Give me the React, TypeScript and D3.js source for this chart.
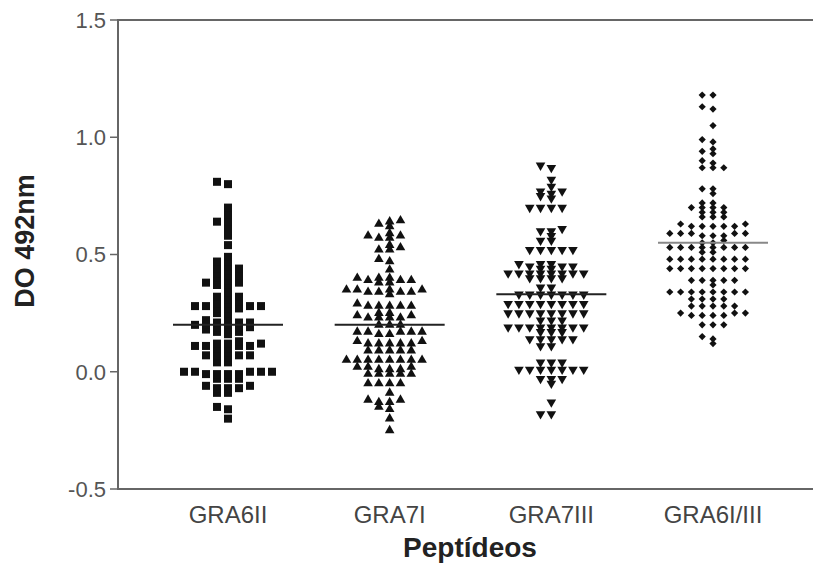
import React from "react";
import * as d3 from "d3";

// Peptídeos (categorias do eixo x)
const peptideos = ["GRA6II", "GRA7I", "GRA7III", "GRA6I/III"];

// DO 492nm por soro
const gra6II = [
  0.81, 0.80, 0.70, 0.67, 0.64, 0.64, 0.61, 0.58, 0.54, 0.49, 0.47, 0.47,
  0.45, 0.44, 0.44, 0.43, 0.42, 0.41, 0.41, 0.40, 0.39, 0.38, 0.38, 0.37, 0.37,
  0.34, 0.32, 0.32, 0.31, 0.30, 0.29, 0.29, 0.28, 0.28, 0.28, 0.28, 0.27, 0.27,
  0.27, 0.25, 0.25, 0.22, 0.22, 0.21, 0.21, 0.21, 0.20, 0.20, 0.20, 0.19, 0.19,
  0.19, 0.18, 0.18, 0.17, 0.17, 0.16, 0.13, 0.12, 0.12, 0.12, 0.11, 0.11, 0.11,
  0.11, 0.10, 0.10, 0.08, 0.07, 0.07, 0.07, 0.07, 0.06, 0.04, 0.04, 0.00, 0.00,
  0.00, 0.00, 0.00, -0.01, -0.01, -0.01, -0.01, -0.03, -0.03, -0.03, -0.06,
  -0.06, -0.07, -0.07, -0.07, -0.09, -0.09, -0.15, -0.16, -0.20,
];

const gra7I = [
  0.645, 0.64, 0.63, 0.62, 0.59, 0.58, 0.58, 0.57, 0.57, 0.54, 0.53, 0.52, 0.52,
  0.48, 0.47, 0.435, 0.40, 0.40, 0.40, 0.39, 0.39, 0.39, 0.38, 0.38, 0.35, 0.35,
  0.35, 0.35, 0.34, 0.34, 0.34, 0.34, 0.33, 0.29, 0.28, 0.28, 0.28, 0.28, 0.28,
  0.25, 0.25, 0.24, 0.24, 0.23, 0.23, 0.23, 0.23, 0.20, 0.20, 0.20, 0.17, 0.17,
  0.17, 0.17, 0.17, 0.16, 0.16, 0.13, 0.13, 0.12, 0.12, 0.12, 0.12, 0.12, 0.09,
  0.09, 0.09, 0.09, 0.09, 0.05, 0.05, 0.05, 0.05, 0.05, 0.05, 0.05, 0.05, 0.02,
  0.02, 0.02, 0.01, 0.01, 0.01, -0.01, -0.01, -0.01, -0.01, -0.01, -0.05, -0.05,
  -0.05, -0.05, -0.09, -0.12, -0.12, -0.13, -0.13, -0.15, -0.16, -0.20, -0.25,
];

const gra7III = [
  0.88, 0.87, 0.82, 0.79, 0.77, 0.77, 0.76, 0.75, 0.74, 0.70, 0.70, 0.70, 0.70,
  0.61, 0.60, 0.60, 0.58, 0.56, 0.56, 0.52, 0.52, 0.52, 0.52, 0.52, 0.46, 0.46,
  0.46, 0.45, 0.45, 0.45, 0.44, 0.44, 0.42, 0.42, 0.42, 0.42, 0.42, 0.42, 0.42,
  0.42, 0.40, 0.40, 0.40, 0.40, 0.36, 0.36, 0.33, 0.33, 0.33, 0.33, 0.33, 0.33,
  0.33, 0.29, 0.29, 0.29, 0.29, 0.29, 0.29, 0.29, 0.29, 0.25, 0.25, 0.25, 0.25,
  0.25, 0.25, 0.25, 0.25, 0.22, 0.22, 0.22, 0.19, 0.19, 0.19, 0.19, 0.19, 0.19,
  0.19, 0.19, 0.17, 0.17, 0.17, 0.14, 0.14, 0.14, 0.14, 0.14, 0.11, 0.11, 0.04,
  0.04, 0.04, 0.01, 0.01, 0.01, 0.01, 0.01, 0.01, 0.01, -0.03, -0.03, -0.03,
  -0.05, -0.13, -0.18, -0.18,
];

const gra6I_III = [
  1.18, 1.18, 1.13, 1.12, 1.05, 0.99, 0.98, 0.95, 0.94, 0.93, 0.90, 0.89, 0.87,
  0.87, 0.87, 0.78, 0.78, 0.76, 0.72, 0.72, 0.70, 0.70, 0.70, 0.70, 0.68, 0.68,
  0.68, 0.66, 0.66, 0.66, 0.63, 0.63, 0.62, 0.62, 0.62, 0.62, 0.62, 0.59, 0.59,
  0.59, 0.59, 0.59, 0.58, 0.58, 0.58, 0.56, 0.55, 0.55, 0.53, 0.53, 0.53, 0.53,
  0.53, 0.53, 0.53, 0.53, 0.51, 0.51, 0.48, 0.48, 0.48, 0.48, 0.48, 0.48, 0.48,
  0.48, 0.44, 0.44, 0.44, 0.44, 0.44, 0.44, 0.44, 0.44, 0.39, 0.39, 0.39, 0.39,
  0.39, 0.37, 0.34, 0.34, 0.34, 0.34, 0.34, 0.34, 0.34, 0.34, 0.31, 0.31, 0.31,
  0.31, 0.28, 0.28, 0.28, 0.28, 0.28, 0.25, 0.25, 0.25, 0.24, 0.24, 0.24, 0.24,
  0.20, 0.20, 0.20, 0.15, 0.14, 0.12,
];

// linha horizontal de cada grupo (mediana)
const medianas = [0.20, 0.20, 0.33, 0.55];

const yTicks = [-0.5, 0.0, 0.5, 1.0, 1.5];

const grupos = [gra6II, gra7I, gra7III, gra6I_III];

const W = 813;
const H = 568;
const axisX = 118;
const top = 20;
const bottom = 489;

const y = d3.scaleLinear().domain([-0.5, 1.5]).range([bottom, top]);
const x = d3.scalePoint<string>().domain(peptideos).range([228, 713]);

// posiciona os pontos em colunas, como no Prism
function swarm(values: number[], step: number, minDy: number) {
  const pts = values
    .map((v) => ({ v, py: y(v), k: 0 }))
    .sort((a, b) => b.py - a.py);
  const placed: { py: number; k: number }[] = [];
  pts.forEach((p) => {
    for (let i = 0; i < 40; i++) {
      const k = i === 0 ? 0 : i % 2 ? -Math.ceil(i / 2) : Math.ceil(i / 2);
      const hit = placed.some((q) => q.k === k && Math.abs(q.py - p.py) < minDy);
      if (!hit) {
        p.k = k;
        placed.push({ py: p.py, k });
        break;
      }
    }
  });
  return pts.map((p) => ({ ...p, dx: p.k * step }));
}

const tri = d3.symbol(d3.symbolTriangle, 40)()!;
const diamond = d3.symbol(d3.symbolSquare, 26)()!;

function Marker({ g, cx, cy }: { g: number; cx: number; cy: number }) {
  if (g === 0) return <rect x={cx - 4} y={cy - 4} width={8} height={8} fill="#111" />;
  if (g === 1) return <path d={tri} transform={`translate(${cx},${cy})`} fill="#111" />;
  if (g === 2) return <path d={tri} transform={`translate(${cx},${cy}) rotate(180)`} fill="#111" />;
  return <path d={diamond} transform={`translate(${cx},${cy}) rotate(45)`} fill="#111" />;
}

export default function App() {
  const font = "Arial, 'Liberation Sans', Helvetica, sans-serif";
  return (
    <svg
      width={W}
      height={H}
      style={{ position: "absolute", left: 0, top: 0, background: "#fff" }}
      fontFamily={font}
    >
      {/* moldura / eixos */}
      <line x1={axisX} x2={W} y1={top} y2={top} stroke="#666" strokeWidth={2} />
      <line x1={axisX} x2={W} y1={bottom} y2={bottom} stroke="#666" strokeWidth={2} />
      <line x1={axisX} x2={axisX} y1={top - 1} y2={bottom + 1} stroke="#666" strokeWidth={2} />

      {yTicks.map((t) => (
        <g key={t}>
          <line x1={axisX - 8} x2={axisX} y1={y(t)} y2={y(t)} stroke="#666" strokeWidth={1.5} />
          <text
            x={axisX - 12}
            y={y(t)}
            dy="0.36em"
            textAnchor="end"
            fontSize={22}
            fill="#555"
          >
            {t.toFixed(1)}
          </text>
        </g>
      ))}

      {peptideos.map((p) => (
        <text key={p} x={x(p)} y={523} textAnchor="middle" fontSize={24} fill="#444">
          {p}
        </text>
      ))}

      <text x={470} y={557} textAnchor="middle" fontSize={28} fontWeight="bold" fill="#222">
        Peptídeos
      </text>
      <text
        transform={`translate(34,241) rotate(-90)`}
        textAnchor="middle"
        fontSize={27}
        fontWeight="bold"
        fill="#222"
      >
        DO 492nm
      </text>

      {grupos.map((vals, g) => {
        const cx = x(peptideos[g])!;
        const pts = swarm(vals, g === 0 ? 11 : 10.8, 4.2);
        return (
          <g key={g}>
            {pts.map((p, i) => (
              <Marker key={i} g={g} cx={cx + p.dx} cy={p.py} />
            ))}
            <line
              x1={cx - 55}
              x2={cx + 55}
              y1={y(medianas[g])}
              y2={y(medianas[g])}
              stroke={g === 3 ? "#888" : "#222"}
              strokeWidth={2}
            />
          </g>
        );
      })}
    </svg>
  );
}
